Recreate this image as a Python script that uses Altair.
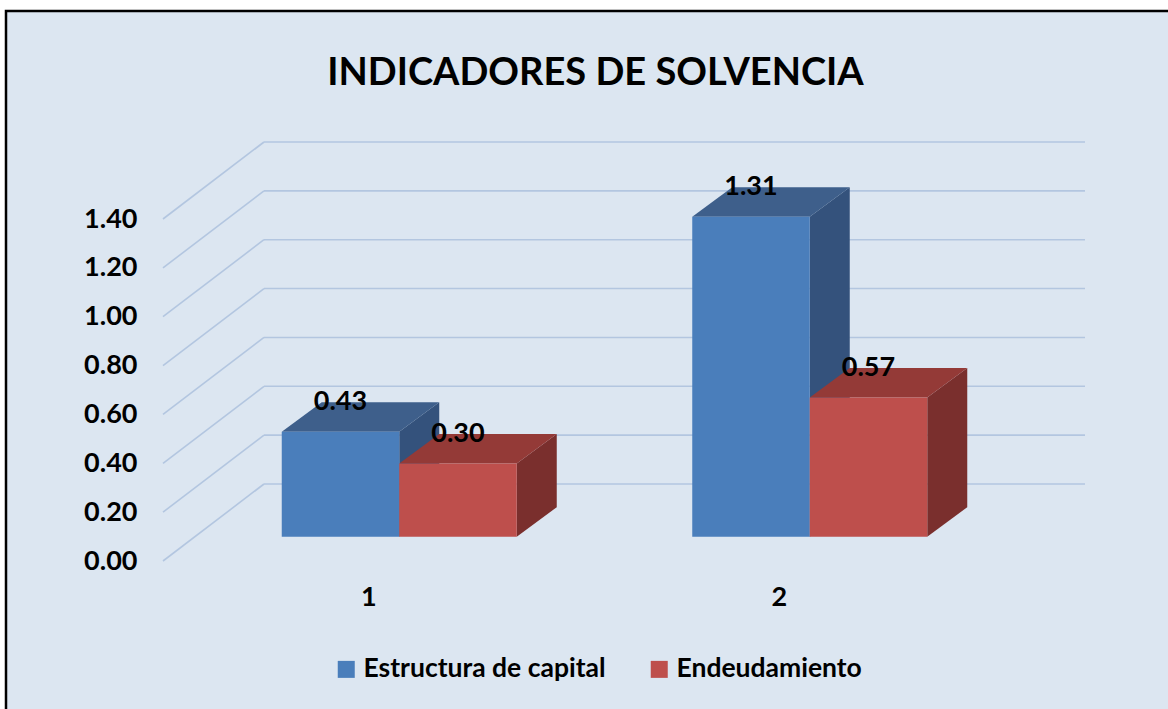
import json
import altair as alt
import pandas as pd

# ---------------- data ----------------
CATEGORIES = ["1", "2"]
SERIES = ["Estructura de capital", "Endeudamiento"]
ESTRUCTURA = [0.43, 1.31]
ENDEUDAMIENTO = [0.30, 0.57]
Y_TICKS = [0.0, 0.2, 0.4, 0.6, 0.8, 1.0, 1.2, 1.4]
TITLE = "INDICADORES DE SOLVENCIA"

# ---------------- style / layout ----------------
FONT = "Lato"
WEIGHT = "bold"
BG = "#DCE6F1"
GRID = "#B3C6E0"
FRONT_COLORS = ["#4A7EBB", "#BE4F4C"]
TOP_COLORS = ["#3E5F8B", "#943A37"]
SIDE_COLORS = ["#34527C", "#7A2F2D"]

PLOT_W, PLOT_H = 821, 342
PAD_L, PAD_T = 264, 142
Y_MAX = 1.4
X_MAX = len(CATEGORIES)
PX_X = PLOT_W / X_MAX
PX_Y = PLOT_H / Y_MAX
HALF = 117.5 / PX_X          # width of one bar in x units
DX = 40 / PX_X               # bar depth (x)
DY = 29.5 / PX_Y             # bar depth (y)
BAR_SX, BAR_SY = -70, 52.7   # bars sit in front of the back wall
FLOOR_DX, FLOOR_DY = -101, 77

values_by_series = [ESTRUCTURA, ENDEUDAMIENTO]

front_rows, top_rows, side_rows, label_rows = [], [], [], []
for i, cat in enumerate(CATEGORIES):
    c = i + 0.5
    for j, s in enumerate(SERIES):
        v = values_by_series[j][i]
        xl = c - HALF + j * HALF
        xr = xl + HALF
        bid = f"{cat}-{j}"
        front_rows.append({"series": s, "x": xl, "x2": xr, "y": 0.0, "y2": v})
        top_rows += [
            {"id": bid, "c": TOP_COLORS[j], "y": v, "x": xl, "x2": xr},
            {"id": bid, "c": TOP_COLORS[j], "y": v + DY, "x": xl + DX, "x2": xr + DX},
        ]
        side_rows += [
            {"id": bid, "c": SIDE_COLORS[j], "x": xr, "y": v, "y2": 0.0},
            {"id": bid, "c": SIDE_COLORS[j], "x": xr + DX, "y": v + DY, "y2": DY},
        ]
        label_rows.append({"x": (xl + xr) / 2, "y": v + DY, "t": f"{v:.2f}"})

front_df = pd.DataFrame(front_rows)
top_df = pd.DataFrame(top_rows)
side_df = pd.DataFrame(side_rows)
label_df = pd.DataFrame(label_rows)
tick_df = pd.DataFrame({"v": Y_TICKS, "x0": [0.0] * len(Y_TICKS), "x1": [float(X_MAX)] * len(Y_TICKS)})

XS = alt.Scale(domain=[0, X_MAX], nice=False, zero=False)
YS = alt.Scale(domain=[0, Y_MAX], nice=False, zero=False)

X_AXIS = alt.Axis(
    values=[i + 0.5 for i in range(len(CATEGORIES))],
    labelExpr=f"{json.dumps(CATEGORIES)}[floor(datum.value)]",
    title=None, grid=False, domain=False, ticks=False, tickSize=0,
    labelOffset=FLOOR_DX, labelPadding=100, labelFont=FONT, labelFontSize=27,
    labelFontWeight=WEIGHT, labelColor="black", zindex=1,
)
Y_AXIS = alt.Axis(
    values=Y_TICKS, format=".2f", title=None, grid=False, domain=False,
    ticks=False, tickSize=0, labelPadding=127, labelOffset=FLOOR_DY,
    labelFont=FONT, labelFontSize=27, labelFontWeight=WEIGHT,
    labelColor="black", labelAlign="right", zindex=1,
)

def X(f):
    return alt.X(f, scale=XS, axis=X_AXIS)

def Y(f):
    return alt.Y(f, scale=YS, axis=Y_AXIS)

panel = alt.Chart(alt.Data(values=[{}])).mark_rect(
    fill=BG, stroke="black", strokeWidth=2.5
).encode(
    x=alt.value(6 - PAD_L), x2=alt.value(1200 - PAD_L),
    y=alt.value(11 - PAD_T), y2=alt.value(740 - PAD_T),
)

grid = alt.Chart(tick_df).mark_rule(color=GRID, strokeWidth=1.6).encode(
    x=X("x0:Q"), x2="x1:Q", y=Y("v:Q"), y2="v:Q"
)

diag = alt.Chart(tick_df).mark_rule(
    color=GRID, strokeWidth=1.6, xOffset=FLOOR_DX, x2Offset=0, yOffset=FLOOR_DY, y2Offset=0
).encode(x=X("x0:Q"), x2="x0:Q", y=Y("v:Q"), y2="v:Q")

side = alt.Chart(side_df).mark_area(
    orient="vertical", xOffset=BAR_SX, yOffset=BAR_SY, y2Offset=BAR_SY
).encode(
    x=X("x:Q"), y=Y("y:Q"), y2="y2:Q",
    fill=alt.Fill("c:N", scale=None, legend=None), detail="id:N",
)

top = alt.Chart(top_df).mark_area(
    orient="horizontal", xOffset=BAR_SX, x2Offset=BAR_SX, yOffset=BAR_SY
).encode(
    y=Y("y:Q"), x=X("x:Q"), x2="x2:Q",
    fill=alt.Fill("c:N", scale=None, legend=None), detail="id:N",
)

front = alt.Chart(front_df).mark_rect(
    xOffset=BAR_SX, x2Offset=BAR_SX, yOffset=BAR_SY, y2Offset=BAR_SY
).encode(
    x=X("x:Q"), x2="x2:Q", y=Y("y:Q"), y2="y2:Q",
    color=alt.Color(
        "series:N",
        scale=alt.Scale(domain=SERIES, range=FRONT_COLORS),
        sort=SERIES,
        legend=alt.Legend(
            title=None, orient="none", legendX=69, legendY=514,
            direction="horizontal", columns=2, columnPadding=40,
            symbolType="square", symbolSize=289, symbolStrokeWidth=0,
            symbolOpacity=1, labelOffset=4,
            labelFont=FONT, labelFontSize=26.5, labelFontWeight=WEIGHT,
            labelColor="black", labelLimit=0, zindex=1,
        ),
    ),
)

labels = alt.Chart(label_df).mark_text(
    font=FONT, fontSize=27, fontWeight=WEIGHT, color="black",
    baseline="middle", align="center", xOffset=BAR_SX, yOffset=BAR_SY,
).encode(x=X("x:Q"), y=Y("y:Q"), text="t:N")

chart = alt.layer(panel, grid, diag, side, top, front, labels).properties(
    width=PLOT_W, height=PLOT_H,
    autosize=alt.AutoSizeParams(type="none"),
    padding={"left": PAD_L, "top": PAD_T, "right": 1168 - PAD_L - PLOT_W, "bottom": 709 - PAD_T - PLOT_H},
    background="white",
    title=alt.TitleParams(
        TITLE, font=FONT, fontSize=38, fontWeight=WEIGHT, color="black",
        anchor="middle", frame="group", dx=-79, dy=113, offset=0, baseline="alphabetic", zindex=1,
    ),
).configure_view(strokeWidth=0)

chart.save("out.html", embed_options={"renderer": "svg", "actions": False})
